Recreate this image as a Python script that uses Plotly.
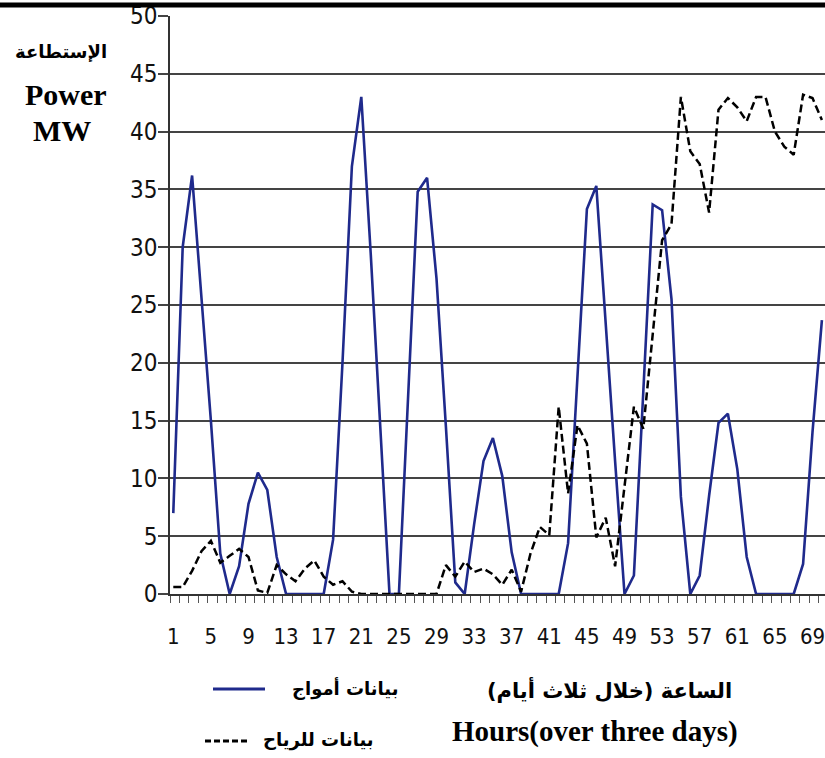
import plotly.graph_objects as go

hours = list(range(1, 71))

waves = [7.0, 30.0, 36.2, 26.0, 15.0, 3.5, 0, 2.4, 7.8, 10.5,
         9.0, 3.2, 0, 0, 0, 0, 0, 4.7, 20.0, 37.0,
         43.0, 29.5, 14.7, 0, 0, 17.5, 34.8, 36.0, 27.3, 14.5,
         1.0, 0, 6.0, 11.5, 13.5, 10.2, 3.6, 0, 0, 0,
         0, 0, 4.4, 19.0, 33.3, 35.3, 23.0, 11.5, 0, 1.6,
         17.5, 33.7, 33.2, 25.5, 8.4, 0, 1.6, 8.5, 14.8, 15.6,
         10.8, 3.2, 0, 0, 0, 0, 0, 2.6, 14.0, 23.7]

wind = [0.6, 0.6, 2.0, 3.7, 4.6, 2.7, 3.3, 3.9, 3.2, 0.3,
        0.1, 2.5, 1.7, 1.1, 2.2, 2.9, 1.5, 0.8, 1.1, 0.2,
        0, 0, 0, 0, 0, 0, 0, 0, 0, 2.5,
        1.5, 2.8, 1.9, 2.2, 1.7, 0.8, 2.1, 0.2, 3.5, 5.8,
        5.1, 16.2, 8.7, 14.6, 13.0, 4.9, 6.6, 2.4, 9.2, 16.2,
        14.3, 22.5, 30.6, 32.0, 43.0, 38.3, 37.2, 33.0, 41.9, 42.9,
        42.1, 40.9, 43.0, 43.0, 40.0, 38.7, 38.0, 43.2, 42.9, 41.0]

x_ticks = list(range(1, 70, 4))
x_tick_labels = [str(v) for v in x_ticks]
y_ticks = list(range(0, 51, 5))

name_waves = "بيانات أمواج"
name_wind = "بيانات للرياح"
x_title_ar = "الساعة (خلال ثلاث أيام)"
x_title_en = "Hours(over three days)"
y_title_ar = "الإستطاعة"
y_title_en1 = "Power"
y_title_en2 = "MW"

W, H = 825, 758
L, R, T, B = 170, 0, 16, 164
PW, PH = W - L - R, H - T - B


def px(x):
    return (x - L) / PW


def py(y):
    return (H - B - y) / PH


BLUE = "#1f2a8c"
NARROW = "Liberation Sans Narrow, Arial Narrow, DejaVu Sans Condensed, sans-serif"
SERIF = "Liberation Serif, Times New Roman, serif"
AR = "DejaVu Sans, Noto Sans, sans-serif"

fig = go.Figure()
fig.add_trace(go.Scatter(x=hours, y=waves, mode="lines", name=name_waves,
                         line=dict(color=BLUE, width=2.6), showlegend=False))
fig.add_trace(go.Scatter(x=hours, y=wind, mode="lines", name=name_wind,
                         line=dict(color="black", width=2.5, dash="8px,4px"),
                         showlegend=False))

fig.update_layout(
    width=W, height=H,
    margin=dict(l=L, r=R, t=T, b=B),
    plot_bgcolor="white", paper_bgcolor="white",
    xaxis=dict(range=[0.65, 70.33], tickmode="array", tickvals=x_ticks,
               ticktext=x_tick_labels, ticks="", showgrid=False,
               showline=True, linecolor="#333", linewidth=1.5, zeroline=False,
               tickfont=dict(family=NARROW, size=22, color="#111"),
               ticklabelstandoff=22, ticklabeloverflow="allow",
               minor=dict(tick0=0.65, dtick=1, ticks="outside", ticklen=7,
                          tickcolor="#555", tickwidth=1, showgrid=False)),
    yaxis=dict(range=[0, 50], tickmode="array", tickvals=y_ticks,
               showgrid=True, gridcolor="#444", gridwidth=1.5,
               showline=True, linecolor="#333", linewidth=1.5, zeroline=False,
               ticks="outside", ticklen=10, tickcolor="#444", tickwidth=1.5,
               tickfont=dict(family=NARROW, size=24, color="#111"),
               ticklabelstandoff=-4, ticklabeloverflow="allow"),
)

shapes = [
    dict(type="rect", xref="paper", yref="paper", x0=px(0), x1=px(W),
         y0=py(7.5), y1=py(2.5), fillcolor="black", line=dict(width=0),
         layer="above"),
    dict(type="line", xref="paper", yref="paper", x0=px(213), x1=px(265),
         y0=py(689), y1=py(689), line=dict(color=BLUE, width=3)),
    dict(type="line", xref="paper", yref="paper", x0=px(205), x1=px(250),
         y0=py(741), y1=py(741), line=dict(color="black", width=3, dash="6px,3px")),
]
fig.update_layout(shapes=shapes)

ann = [
    (345, 688, name_waves, AR, 18),
    (318, 740, name_wind, AR, 18),
    (609, 690, x_title_ar, AR, 21),
    (595, 731, x_title_en, SERIF, 29),
    (61, 52, y_title_ar, AR, 18),
    (66, 95, y_title_en1, SERIF, 30),
    (62, 130, y_title_en2, SERIF, 30),
]
for x, y, txt, fam, size in ann:
    fig.add_annotation(x=px(x), y=py(y), xref="paper", yref="paper",
                       text=f"<b>{txt}</b>", showarrow=False,
                       xanchor="center", yanchor="middle",
                       font=dict(family=fam, size=size, color="black"))

fig.write_html("out.html", config={"displayModeBar": False},
               post_script="document.body.style.margin='0';")
